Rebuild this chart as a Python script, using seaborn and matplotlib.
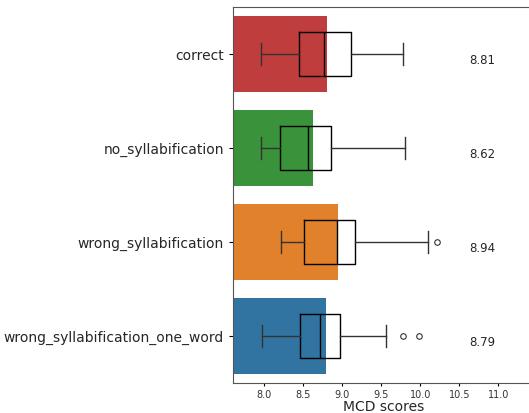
import matplotlib
matplotlib.use("Agg")
import matplotlib.pyplot as plt
import seaborn as sns
import pandas as pd

names = ["correct", "no_syllabification", "wrong_syllabification",
         "wrong_syllabification_one_word"]
means = [8.81, 8.62, 8.94, 8.79]
colors = ["tab:red", "tab:green", "tab:orange", "tab:blue"]

# box stats
whislo = [7.96, 7.955, 8.22, 7.97]
q1 = [8.45, 8.20, 8.51, 8.46]
med = [8.76, 8.56, 8.93, 8.72]
q3 = [9.11, 8.85, 9.16, 8.97]
whishi = [9.78, 9.81, 10.10, 9.56]
fliers = [[], [], [10.22], [9.78, 9.98]]

df = pd.DataFrame({"name": names, "mean": means})

fig = plt.figure(figsize=(5.29, 4.13), dpi=100)
ax = fig.add_axes([233 / 529, 30 / 413, 302 / 529, 376 / 413])

sns.barplot(data=df, x="mean", y="name", hue="name", palette=colors,
            legend=False, width=0.8, ax=ax)

stats = []
for i in range(len(names)):
    stats.append({"whislo": whislo[i], "q1": q1[i], "med": med[i],
                  "q3": q3[i], "whishi": whishi[i], "fliers": fliers[i]})
ax.bxp(stats, positions=range(len(names)), vert=False, widths=0.46,
       showfliers=True, manage_ticks=False,
       boxprops=dict(color="black", lw=1),
       medianprops=dict(color="black", lw=1),
       whiskerprops=dict(color="#333333", lw=1),
       capprops=dict(color="#333333", lw=1),
       flierprops=dict(marker="o", markersize=4, markerfacecolor="none",
                       markeredgecolor="#333333", markeredgewidth=0.8))

for i, m in enumerate(means):
    ax.text(10.79, i + 0.07, f"{m:.2f}", ha="center", va="center",
            fontsize=8.5, color="#262626")

ax.set_xlim(7.6, 11.47)
ax.set_ylim(3.5, -0.5)
ax.set_xticks([8.0, 8.5, 9.0, 9.5, 10.0, 10.5, 11.0])
ax.tick_params(axis="x", labelsize=7, length=2.5, pad=2.5, labelcolor="#333333")
ax.tick_params(axis="y", labelsize=10, length=3, labelcolor="#262626")
ax.set_xlabel("MCD scores", fontsize=10, labelpad=0, color="#262626")
ax.set_ylabel("")
for s in ax.spines.values():
    s.set_color("#555555")
    s.set_linewidth(0.8)

fig.savefig("out.png", dpi=100)
